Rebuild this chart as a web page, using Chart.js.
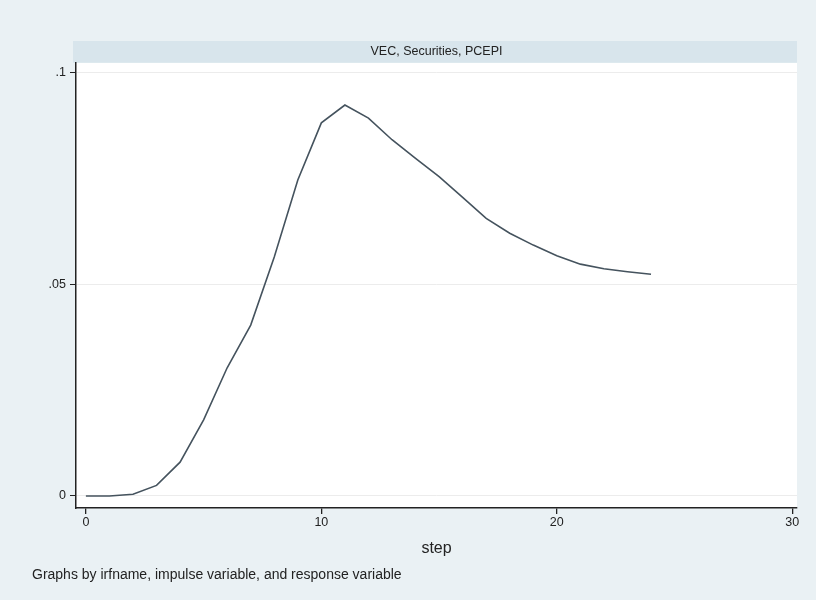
<!DOCTYPE html>
<html>
<head>
<meta charset="utf-8">
<script src="https://cdn.jsdelivr.net/npm/chart.js@4"></script>
<style>
    html, body { margin: 0; padding: 0; background: #eaf1f4; }
    #wrap { width: 816px; height: 600px; }
</style>
</head>
<body>
<div id="wrap"><canvas id="irfChart" width="816" height="600"></canvas></div>
<script>
// impulse response, steps 0..24
const steps = [0, 1, 2, 3, 4, 5, 6, 7, 8, 9, 10, 11, 12, 13, 14, 15, 16, 17, 18, 19, 20, 21, 22, 23, 24];
const irf = [0, 0, 0.0004, 0.0025, 0.0080, 0.0180, 0.0303, 0.0404, 0.0565, 0.0747, 0.0882, 0.0924, 0.0893,
    0.0842, 0.0798, 0.0755, 0.0706, 0.0656, 0.0621, 0.0593, 0.0568, 0.0548, 0.0537, 0.0530, 0.0524];

const xTicks = [0, 10, 20, 30];
const yTicks = [0, 0.05, 0.1];
const yTickLabels = ['0', '.05', '.1'];

const panelTitle = 'VEC, Securities, PCEPI';
const xTitle = 'step';
const footNote = 'Graphs by irfname, impulse variable, and response variable';

const FONT = '"Liberation Sans", Arial, sans-serif';

// page background, white plot region and the grey title strip
const backdrop = {
    id: 'backdrop',
    beforeDraw(chart) {
        const { ctx, chartArea: a } = chart;
        ctx.save();
        ctx.fillStyle = '#eaf1f4';
        ctx.fillRect(0, 0, chart.width, chart.height);
        ctx.fillStyle = '#ffffff';
        ctx.fillRect(a.left, a.top, a.right - a.left, a.bottom - a.top);
        ctx.fillStyle = '#d8e5ec';
        ctx.fillRect(a.left - 3, 41, a.right - a.left + 3, a.top - 41);
        ctx.restore();
    }
};

const ctx = document.getElementById('irfChart').getContext('2d');

new Chart(ctx, {
    type: 'line',
    data: {
        datasets: [{
            data: steps.map((s, i) => ({ x: s, y: irf[i] })),
            borderColor: '#45535e',
            borderWidth: 1.6,
            pointRadius: 0,
            tension: 0,
            fill: false
        }]
    },
    options: {
        responsive: false,
        animation: false,
        layout: { padding: { left: 32, right: 19, top: 0, bottom: 17 } },
        plugins: {
            legend: { display: false },
            tooltip: { enabled: false },
            title: {
                display: true,
                text: panelTitle,
                fullSize: false,
                color: '#222',
                font: { family: FONT, size: 12.5, weight: 'normal', lineHeight: 1.66 },
                padding: { top: 41, bottom: 1 }
            },
            subtitle: {
                display: true,
                text: footNote,
                position: 'bottom',
                align: 'start',
                color: '#222',
                font: { family: FONT, size: 14, lineHeight: 1.1 },
                padding: 0
            }
        },
        scales: {
            x: {
                type: 'linear',
                min: -0.42,
                max: 30.2,
                afterBuildTicks: scale => { scale.ticks = xTicks.map(v => ({ value: v })); },
                afterFit: scale => { scale.height = 59.6; },
                grid: { drawOnChartArea: false, drawTicks: true, tickLength: 6, color: '#222', lineWidth: 1.3 },
                border: { display: true, color: '#222', width: 1.5 },
                ticks: { color: '#222', font: { family: FONT, size: 12.5 }, padding: 1, maxRotation: 0 },
                title: {
                    display: true,
                    text: xTitle,
                    color: '#222',
                    font: { family: FONT, size: 16, lineHeight: 1.2 },
                    padding: { top: 0, bottom: 9 }
                }
            },
            y: {
                min: -0.00284,
                max: 0.1024,
                afterBuildTicks: scale => { scale.ticks = yTicks.map(v => ({ value: v })); },
                afterFit: scale => { scale.width = 44; },
                grid: { color: '#ececec', lineWidth: 1, tickColor: '#222', tickLength: 6, drawTicks: true },
                border: { display: true, color: '#222', width: 1.5 },
                ticks: {
                    color: '#222',
                    font: { family: FONT, size: 12.5 },
                    padding: 4,
                    callback: value => {
                        const i = yTicks.findIndex(t => Math.abs(t - value) < 1e-9);
                        return i >= 0 ? yTickLabels[i] : '';
                    }
                }
            }
        }
    },
    plugins: [backdrop]
});
</script>
</body>
</html>
